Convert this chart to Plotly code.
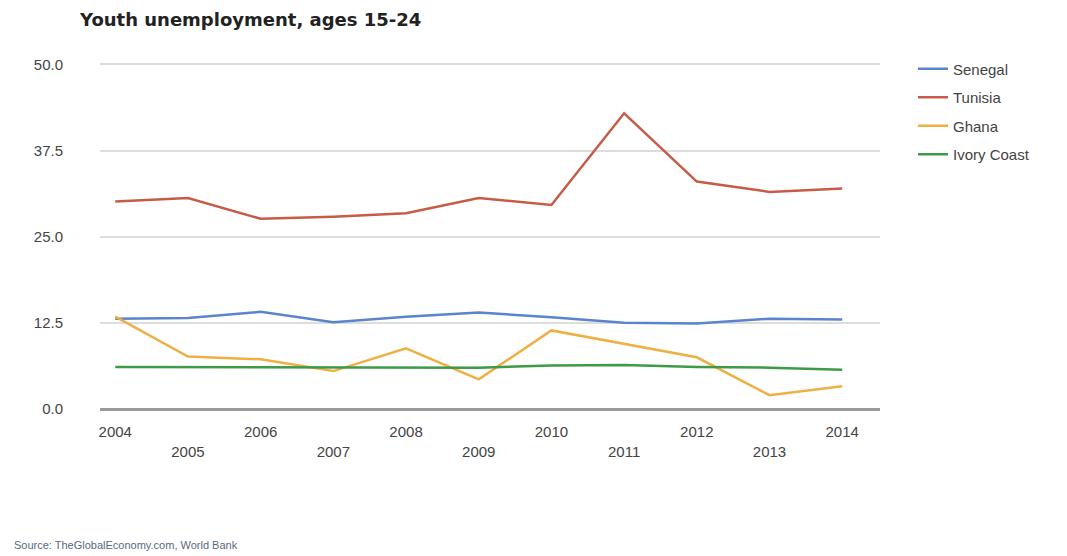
import plotly.graph_objects as go

years = [2004, 2005, 2006, 2007, 2008, 2009, 2010, 2011, 2012, 2013, 2014]
senegal = [13.1, 13.2, 14.1, 12.6, 13.4, 14.0, 13.3, 12.5, 12.4, 13.1, 13.0]
tunisia = [30.1, 30.6, 27.6, 27.9, 28.4, 30.6, 29.6, 42.9, 33.0, 31.5, 32.0]
ghana = [13.4, 7.6, 7.2, 5.5, 8.8, 4.3, 11.4, 9.5, 7.5, 2.0, 3.3]
ivory_coast = [6.1, 6.1, 6.1, 6.0, 6.0, 6.0, 6.3, 6.4, 6.1, 6.0, 5.7]

y_ticks = [0, 12.5, 25, 37.5, 50]
y_tick_labels = ["0.0", "12.5", "25.0", "37.5", "50.0"]
x_tick_labels = [str(y) if y % 2 == 0 else "<br>" + str(y) for y in years]

series = [
    ("Senegal", senegal, "#5b84cc"),
    ("Tunisia", tunisia, "#c65b47"),
    ("Ghana", ghana, "#eeb043"),
    ("Ivory Coast", ivory_coast, "#3d9a46"),
]

fig = go.Figure()
for name, vals, color in series:
    fig.add_trace(go.Scatter(
        x=years, y=vals, name=name, mode="lines",
        line=dict(color=color, width=2.5),
        legendgroup=name,
    ))

# page has an 8px body margin; figure coordinates are offset accordingly
W, H = 1067, 556
L, R, T, B = 92, 195, 55, 155
PW, PH = W - L - R, H - T - B

fig.update_layout(
    width=W, height=H,
    margin=dict(l=L, r=R, t=T, b=B, autoexpand=False),
    paper_bgcolor="white", plot_bgcolor="white",
    font=dict(family="Arial, Liberation Sans, sans-serif", color="#444"),
    title=dict(
        text="<b>Youth unemployment, ages 15-24</b>",
        x=72 / W, xanchor="left", y=1 - 12 / H, yanchor="middle",
        font=dict(size=18, color="#222", family="DejaVu Sans, Verdana, sans-serif"),
    ),
    legend=dict(
        x=(913 - 8 - L) / PW, xanchor="left", y=1.03, yanchor="top",
        font=dict(size=15, color="#444"),
        tracegroupgap=6, traceorder="grouped",
        bgcolor="rgba(0,0,0,0)",
    ),
    xaxis=dict(
        range=[2003.79, 2014.52],
        tickvals=years, ticktext=x_tick_labels,
        tickfont=dict(size=15, color="#444"),
        showgrid=False, zeroline=False,
        showline=False, ticks="",
        ticklabelstandoff=12,
    ),
    yaxis=dict(
        range=[0, 50.2],
        tickvals=y_ticks, ticktext=y_tick_labels,
        tickfont=dict(size=15, color="#444"),
        showgrid=True, gridcolor="#dddddd", gridwidth=1.5,
        zeroline=True, zerolinecolor="#9a9a9a", zerolinewidth=2.5,
        ticklabelstandoff=36,
    ),
    showlegend=True,
)

fig.add_annotation(
    text="Source: TheGlobalEconomy.com, World Bank",
    xref="paper", yref="paper",
    x=(4 - L) / PW, y=-(537 - (H - B)) / PH,
    xanchor="left", yanchor="middle", showarrow=False,
    font=dict(size=11, color="#5a6a80"),
)

fig.write_html("out.html")
